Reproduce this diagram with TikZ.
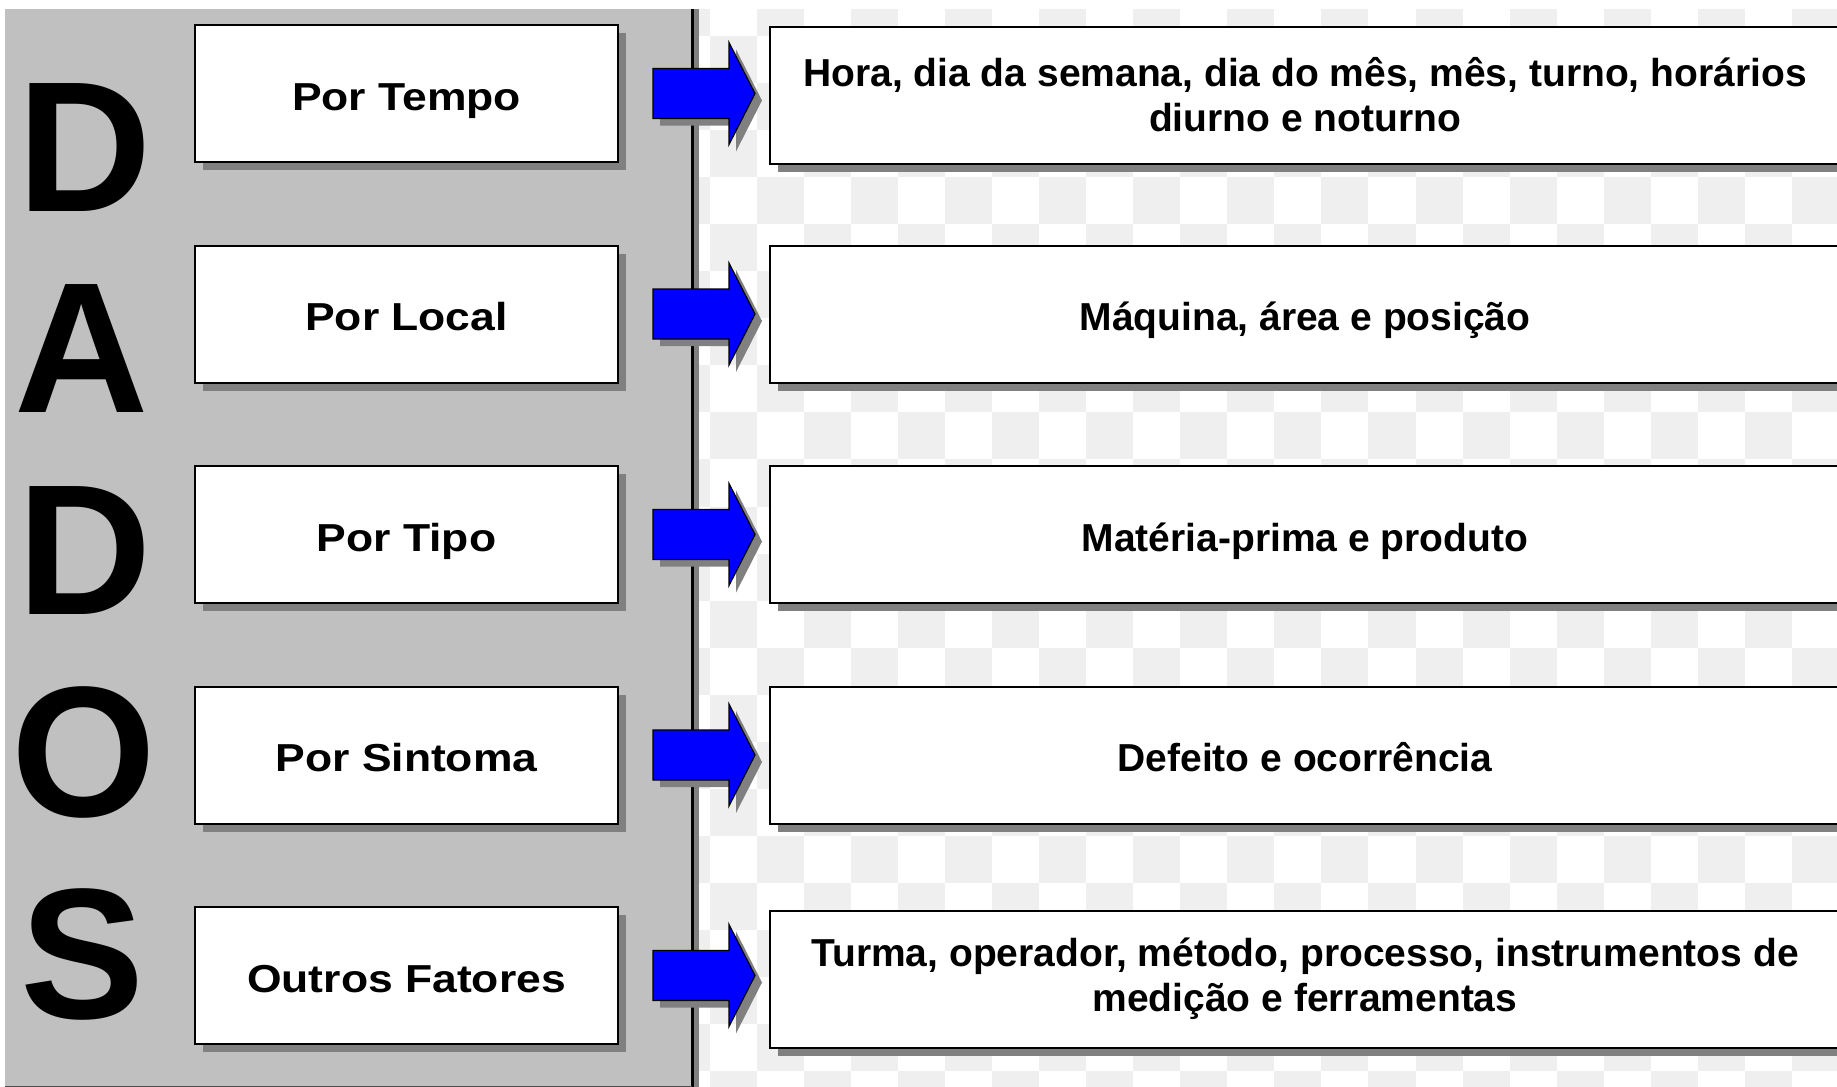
\documentclass[tikz,border=0pt]{standalone}
\usepackage{fontspec}
\setmainfont{Liberation Sans}
\usetikzlibrary{calc,shadows}
\definecolor{panelgray}{HTML}{C0C0C0}
\definecolor{shadowgray}{HTML}{808080}
\definecolor{checkgray}{HTML}{EFEFEF}
\definecolor{arrowblue}{HTML}{0000FF}
\begin{document}
\begin{tikzpicture}[x=1pt,y=-1pt,
  boxshadow/.style={drop shadow={shadow xshift=8pt,shadow yshift=-8pt,fill=shadowgray,opacity=1}},
  leftbox/.style={draw=black,line width=2pt,fill=white,minimum width=423pt,minimum height=137pt,inner sep=0pt,boxshadow,
    text height=36pt,text depth=3pt,font=\fontsize{39}{45}\selectfont\bfseries},
  rightbox/.style={draw=black,line width=2pt,fill=white,minimum width=1070pt,minimum height=137pt,inner sep=0pt,boxshadow,
    align=center,font=\fontsize{39}{45}\selectfont\bfseries},
  oneline/.style={text height=36pt,text depth=3pt},
  bigletter/.style={anchor=base,inner sep=0pt,font=\fontsize{186}{186}\selectfont\bfseries},
  blockarrow/.style={fill=arrowblue,draw=black,line width=1.2pt,line join=miter},
  arrowshadow/.style={fill=shadowgray}]
\useasboundingbox (0,0) rectangle (1837,1087);
\fill[white] (0,0) rectangle (1837,1087);
% checkerboard background
\begin{scope}
\clip (693,9) rectangle (1837,1087);
\foreach \c in {14,...,38}{
  \foreach \r in {-1,...,22}{
    \pgfmathtruncatemacro{\pty}{mod(\c+\r,2)}
    \ifnum\pty=1
      \fill[checkgray] ({4+\c*47.05},{36+\r*47.05}) rectangle ++(47.05,47.05);
    \fi
  }
}
\end{scope}
% gray panel
\fill[panelgray] (5,9) rectangle (692,1087);
\fill[shadowgray] (693,9) rectangle (699,1087);
\draw[line width=3pt] (692,9) -- (692,1087);
\draw[line width=1pt,black!70] (5,1086) -- (692,1086);
% big letters
\node[bigletter] (L1) at (85,211) {D};
\node[bigletter] (L2) at (82,412) {A};
\node[bigletter] (L3) at (85,614) {D};
\node[bigletter] (L4) at (84,816) {O};
\node[bigletter] (L5) at (83,1018) {S};
% left boxes
\node[leftbox] (l1) at (406.5,93.5) {\scalebox{1.14}[1]{Por Tempo}};
\node[leftbox] (l2) at (406.5,314) {\scalebox{1.14}[1]{Por Local}};
\node[leftbox] (l3) at (406.5,534.5) {\scalebox{1.14}[1]{Por Tipo}};
\node[leftbox] (l4) at (406.5,755) {\scalebox{1.14}[1]{Por Sintoma}};
\node[leftbox] (l5) at (406.5,975.5) {\scalebox{1.14}[1]{Outros Fatores}};
% right boxes
\node[rightbox] (r1) at (1305,95) {Hora, dia da semana, dia do mês, mês, turno, horários\\diurno e noturno};
\node[rightbox,oneline] (r2) at (1305,314) {Máquina, área e posição};
\node[rightbox,oneline] (r3) at (1305,534.5) {Matéria-prima e produto};
\node[rightbox,oneline] (r4) at (1305,755) {Defeito e ocorrência};
\node[rightbox] (r5) at (1305,979) {Turma, operador, método, processo, instrumentos de\\medição e ferramentas};
% block arrows
\foreach \i in {1,...,5}{
  \coordinate (as\i) at ($(l\i.east)+(34,0)$);
  \coordinate (ss\i) at ($(as\i)+(7,7)$);
  \fill[arrowshadow] (ss\i) ++(0,-25) -- ++(76,0) -- ++(0,-26) -- ++(26,51) -- ++(-26,51) -- ++(0,-26) -- ++(-76,0) -- cycle;
  \draw[blockarrow] (as\i) ++(0,-25) -- ++(76,0) -- ++(0,-26) -- ++(26,51) -- ++(-26,51) -- ++(0,-26) -- ++(-76,0) -- cycle;
}
\end{tikzpicture}
\end{document}
